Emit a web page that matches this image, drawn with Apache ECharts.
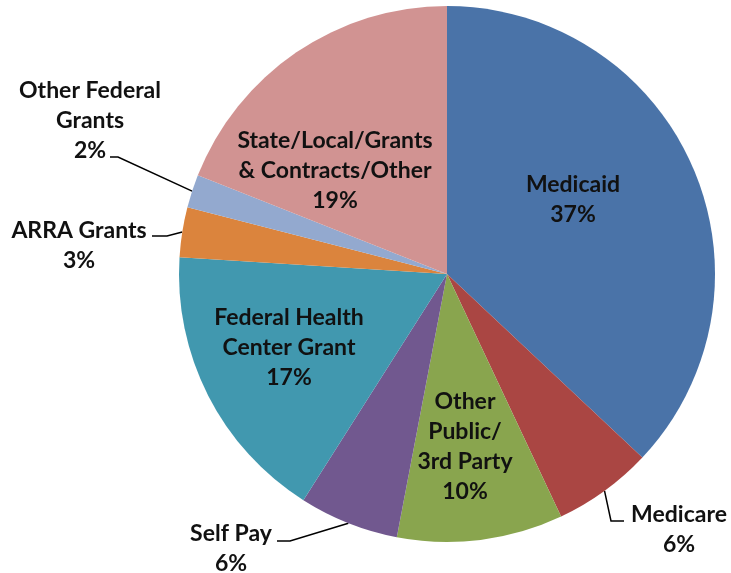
<!DOCTYPE html>
<html>
<head>
<meta charset="utf-8">
<script src="https://cdn.jsdelivr.net/npm/echarts@6/dist/echarts.min.js"></script>
<style>html,body{margin:0;padding:0;background:#fff;}#c{width:731px;height:573px;}</style>
</head>
<body>
<div id="c"></div>
<script>
// Data
const categories = ['Medicaid', 'Medicare', 'Other\nPublic/\n3rd Party', 'Self Pay', 'Federal Health\nCenter Grant', 'ARRA Grants', 'Other Federal\nGrants', 'State/Local/Grants\n& Contracts/Other'];
const values = [37, 6, 10, 6, 17, 3, 2, 19];
const colors = ['#4A73A8', '#AA4643', '#89A54E', '#71588F', '#4198AF', '#DB843D', '#93A9CF', '#D19392'];
const outside = [false, true, false, true, false, true, true, false];

// Layout (pixels)
const CX = 447, CY = 274, R = 268;
// label block centres
const labelPos = [[573, 200], [679, 530], [465, 447], [231, 549], [289, 348], [79, 246], [90, 121], [335, 171]];
// leader bend / end points for outside labels
const leader = {
  1: [[611, 521], [624, 521]],
  3: [[290, 541], [277, 541]],
  5: [[167, 236], [152, 236]],
  6: [[118, 157], [110, 157]]
};

const total = values.reduce((a, b) => a + b, 0);
function edgePoint(i) {
  let before = 0;
  for (let k = 0; k < i; k++) before += values[k];
  const mid = before + values[i] / 2;
  const ang = (90 - mid / total * 360) * Math.PI / 180;
  return [CX + R * Math.cos(ang), CY - R * Math.sin(ang)];
}

const chart = echarts.init(document.getElementById('c'), null, {renderer: 'canvas'});
chart.setOption({
  backgroundColor: '#ffffff',
  animation: false,
  series: [{
    type: 'pie',
    center: [CX, CY],
    radius: [0, R],
    startAngle: 90,
    clockwise: true,
    avoidLabelOverlap: false,
    itemStyle: {borderWidth: 0},
    label: {
      show: true,
      formatter: p => p.name + '\n' + p.value + '%',
      fontFamily: 'Lato',
      fontWeight: 'bold',
      fontSize: 23,
      lineHeight: 30,
      color: '#111',
      align: 'center'
    },
    labelLine: {show: true, lineStyle: {color: '#000', width: 1.5}},
    labelLayout: function (p) {
      const i = p.dataIndex;
      const out = {x: labelPos[i][0], y: labelPos[i][1], align: 'center', verticalAlign: 'middle'};
      if (leader[i]) {
        out.labelLinePoints = [edgePoint(i), leader[i][0], leader[i][1]];
      }
      return out;
    },
    data: categories.map((c, i) => ({
      name: c,
      value: values[i],
      itemStyle: {color: colors[i]},
      label: {position: outside[i] ? 'outside' : 'inside'},
      labelLine: {show: outside[i]}
    }))
  }]
});
</script>
</body>
</html>
